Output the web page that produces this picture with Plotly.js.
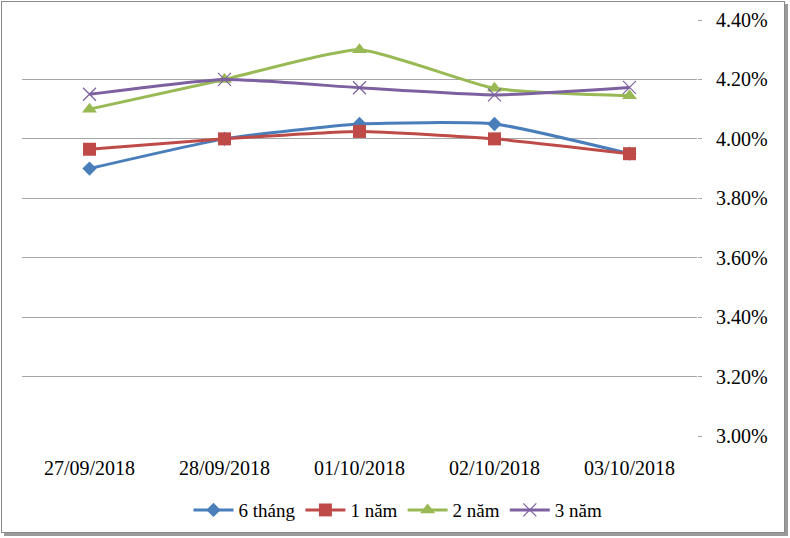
<!DOCTYPE html>
<html>
<head>
<meta charset="utf-8">
<script src="https://cdn.plot.ly/plotly-3.0.1.min.js"></script>
<style>
html,body{margin:0;padding:0;background:#fff;}
#wrap{position:relative;width:790px;height:538px;}
#chart{width:790px;height:538px;}
#frame{position:absolute;left:1px;top:1px;width:782px;height:530px;border:1px solid #8a8a8a;box-shadow:3px 3px 0 #9a9a9a;pointer-events:none;}
</style>
</head>
<body>
<div id="wrap"><div id="chart"></div><div id="frame"></div></div>
<script>
var categories = ["27/09/2018", "28/09/2018", "01/10/2018", "02/10/2018", "03/10/2018"];
var seriesNames = ["6 tháng", "1 năm", "2 năm", "3 năm"];
var s6thang = [3.90, 4.00, 4.05, 4.05, 3.95];
var s1nam = [3.965, 4.00, 4.025, 4.00, 3.95];
var s2nam = [4.10, 4.20, 4.30, 4.17, 4.145];
var s3nam = [4.15, 4.20, 4.172, 4.148, 4.173];
var yTicks = [3.0, 3.2, 3.4, 3.6, 3.8, 4.0, 4.2, 4.4];

var colors = ["#4A7EBB", "#BE4B48", "#98B954", "#7D60A0"];
var symbols = ["diamond", "square", "triangle-up", "x-thin"];
var sizes = [11, 13, 13, 13];
var data = [s6thang, s1nam, s2nam, s3nam];
var serif = "Liberation Serif";

var traces = data.map(function(vals, i) {
  return {
    x: categories,
    y: vals,
    name: seriesNames[i],
    type: "scatter",
    mode: "lines+markers",
    line: {color: colors[i], width: 3, shape: "spline", smoothing: 0.5},
    marker: {symbol: symbols[i], size: sizes[i], color: colors[i],
             line: {color: colors[i], width: i === 3 ? 1.2 : 0}}
  };
});

var layout = {
  width: 790, height: 538,
  margin: {l: 22, r: 93, t: 20, b: 102, autoexpand: false},
  paper_bgcolor: "#ffffff", plot_bgcolor: "#ffffff",
  font: {family: serif, size: 20, color: "#000"},
  showlegend: true,
  legend: {orientation: "h", x: 0.557, xanchor: "center", y: -0.178, yanchor: "middle",
           font: {size: 19, family: serif}, itemwidth: 40, traceorder: "normal"},
  xaxis: {type: "category", range: [-0.5, 4.5], showgrid: false, zeroline: false, tickangle: 0,
          showline: false, ticks: "", ticklabelstandoff: 18, tickfont: {size: 20, family: serif}, automargin: false},
  yaxis: {side: "right", range: [3.0, 4.4], tickvals: yTicks,
          ticktext: yTicks.map(function(v){return v.toFixed(2) + "%";}),
          showgrid: true, gridcolor: "#a6a6a6", gridwidth: 1, zeroline: false,
          showline: false, ticks: "outside", ticklen: 4, tickcolor: "#a6a6a6",
          ticklabelstandoff: 10, tickfont: {size: 20, family: serif}, automargin: false}
};

Plotly.newPlot("chart", traces, layout, {displayModeBar: false, staticPlot: true});
</script>
</body>
</html>
